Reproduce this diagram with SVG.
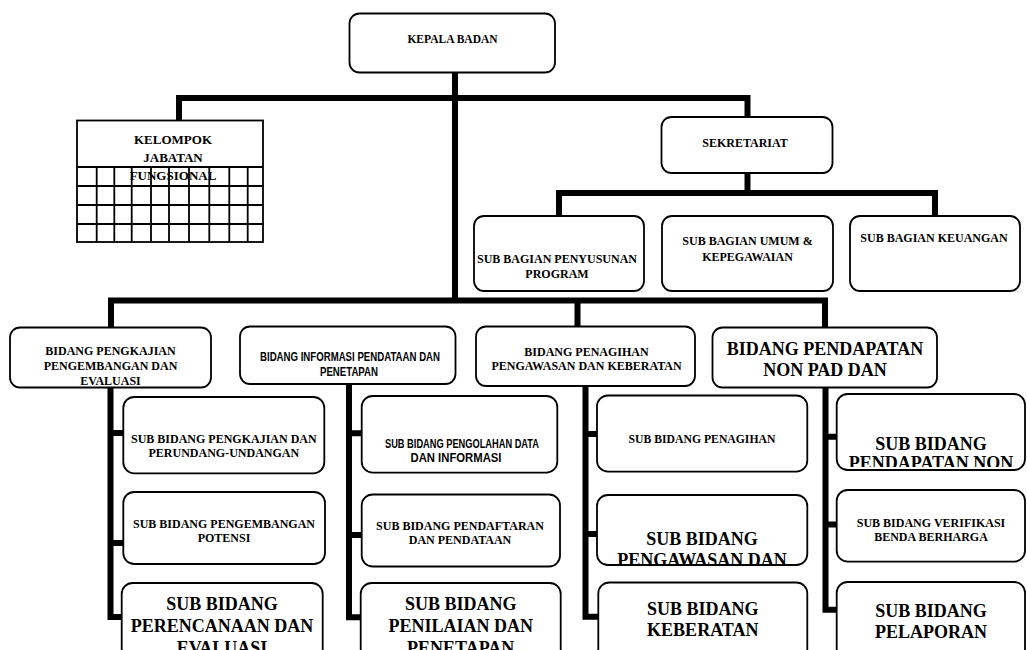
<svg xmlns="http://www.w3.org/2000/svg" width="1027" height="650" viewBox="0 0 1027 650">
<style>
.b{fill:#fff;stroke:#000;stroke-width:1.8}
.g{stroke:#000;stroke-width:1.8;fill:none}
.c{stroke:#000;stroke-width:6;fill:none;stroke-linecap:butt;stroke-linejoin:miter}
.t{font-family:"Liberation Serif","Times New Roman",serif;font-weight:bold;font-size:12px;text-anchor:middle;fill:#000}
.s{font-family:"Liberation Sans",Arial,sans-serif;font-weight:bold;font-size:12px;text-anchor:middle;fill:#000}
.L{font-size:18px}
</style>
<defs>
<clipPath id="clipPeng"><rect x="598" y="495" width="209" height="69"/></clipPath>
<clipPath id="clipNon"><rect x="837" y="394" width="188" height="73"/></clipPath>
</defs>
<rect width="1027" height="650" fill="#fff"/>
<g id="connectors">
<path class="c" d="M455 68 V303"/>
<path class="c" d="M179 120 V98 H747.5 V117"/>
<path class="c" d="M747.5 173 V193"/>
<path class="c" d="M559 216 V193 H935 V216"/>
<path class="c" d="M111 327 V300.5 H825 V328"/>
<path class="c" d="M577.5 300.5 V326"/>
<path class="c" d="M110.5 387 V617 H123"/>
<path class="c" d="M110.5 433 H123 M110.5 543 H123"/>
<path class="c" d="M349 384 V617.3 H362"/>
<path class="c" d="M349 433.3 H362 M349 535 H362"/>
<path class="c" d="M585.5 386 V616.7 H598"/>
<path class="c" d="M585.5 434 H598 M585.5 534 H598"/>
<path class="c" d="M825.5 387 V609.7 H837"/>
<path class="c" d="M825.5 436.7 H837 M825.5 524.5 H837"/>
</g>
<g id="kepala">
<rect class="b" x="349.5" y="13.5" width="205.5" height="59" rx="10"/>
<text class="t" x="452.5" y="42.5" style="font-size:11.5px">KEPALA BADAN</text>
</g>
<g id="kelompok">
<rect class="b" x="77" y="120.5" width="186" height="121.5"/>
<path class="g" d="M77 167 H263 M77 186 H263 M77 205 H263 M77 224 H263 M96.7 167 V242 M114.3 167 V242 M131.7 167 V242 M151 167 V242 M169 167 V242 M189 167 V242 M209.3 167 V242 M229.3 167 V242 M247.7 167 V242"/>
<text class="t" x="173" y="144" style="font-size:13px">KELOMPOK</text>
<text class="t" x="173" y="162" style="font-size:13px">JABATAN</text>
<text class="t" x="173" y="180" style="font-size:13px">FUNGSIONAL</text>
</g>
<g id="sekretariat">
<rect class="b" x="661.5" y="117" width="171" height="56" rx="10"/>
<text class="t" x="745" y="147">SEKRETARIAT</text>
</g>
<g id="sub-penyusunan">
<rect class="b" x="474" y="216" width="170" height="75" rx="10"/>
<text class="t" x="557" y="263">SUB BAGIAN PENYUSUNAN</text>
<text class="t" x="557" y="278">PROGRAM</text>
</g>
<g id="sub-umum">
<rect class="b" x="662" y="216" width="171" height="75" rx="10"/>
<text class="t" x="747.5" y="245">SUB BAGIAN UMUM &amp;</text>
<text class="t" x="747.5" y="261">KEPEGAWAIAN</text>
</g>
<g id="sub-keuangan">
<rect class="b" x="850" y="216" width="170" height="75" rx="10"/>
<text class="t" x="934" y="242">SUB BAGIAN KEUANGAN</text>
</g>
<g id="bidang-pengkajian">
<rect class="b" x="10" y="327.5" width="201" height="60" rx="10"/>
<text class="t" x="110.5" y="355">BIDANG PENGKAJIAN</text>
<text class="t" x="110.5" y="370">PENGEMBANGAN DAN</text>
<text class="t" x="110.5" y="384.5">EVALUASI</text>
</g>
<g id="bidang-informasi">
<rect class="b" x="240" y="326.5" width="215.5" height="57.5" rx="10"/>
<text class="s" x="350" y="361" textLength="180" lengthAdjust="spacingAndGlyphs">BIDANG INFORMASI PENDATAAN DAN</text>
<text class="s" x="349" y="376" textLength="58" lengthAdjust="spacingAndGlyphs">PENETAPAN</text>
</g>
<g id="bidang-penagihan">
<rect class="b" x="476" y="326.5" width="219" height="59.5" rx="10"/>
<text class="t" x="586.5" y="355.5">BIDANG PENAGIHAN</text>
<text class="t" x="586.5" y="370">PENGAWASAN DAN KEBERATAN</text>
</g>
<g id="bidang-pendapatan">
<rect class="b" x="712.5" y="327.5" width="224.5" height="60" rx="10"/>
<text class="t L" x="825" y="355">BIDANG PENDAPATAN</text>
<text class="t L" x="825" y="376">NON PAD DAN</text>
</g>
<g id="sub-pengkajian">
<rect class="b" x="123.3" y="397" width="201" height="76.3" rx="11"/>
<text class="t" x="223.8" y="443">SUB BIDANG PENGKAJIAN DAN</text>
<text class="t" x="223.8" y="457">PERUNDANG-UNDANGAN</text>
</g>
<g id="sub-pengembangan">
<rect class="b" x="123.3" y="492" width="201.7" height="72" rx="11"/>
<text class="t" x="224" y="528">SUB BIDANG PENGEMBANGAN</text>
<text class="t" x="224" y="542">POTENSI</text>
</g>
<g id="sub-perencanaan">
<rect class="b" x="121.7" y="583" width="201" height="90" rx="11"/>
<text class="t L" x="222" y="610">SUB BIDANG</text>
<text class="t L" x="222" y="632">PERENCANAAN DAN</text>
<text class="t L" x="222" y="654">EVALUASI</text>
</g>
<g id="sub-pengolahan">
<rect class="b" x="361.7" y="396" width="195.6" height="76.7" rx="11"/>
<text class="s" x="462" y="448" textLength="154" lengthAdjust="spacingAndGlyphs">SUB BIDANG PENGOLAHAN DATA</text>
<text class="s" x="456" y="462" textLength="91" lengthAdjust="spacingAndGlyphs">DAN INFORMASI</text>
</g>
<g id="sub-pendaftaran">
<rect class="b" x="361.7" y="494.5" width="198.3" height="72" rx="11"/>
<text class="t" x="460" y="530">SUB BIDANG PENDAFTARAN</text>
<text class="t" x="460" y="544">DAN PENDATAAN</text>
</g>
<g id="sub-penilaian">
<rect class="b" x="360.7" y="583" width="200" height="90" rx="11"/>
<text class="t L" x="460.7" y="610">SUB BIDANG</text>
<text class="t L" x="460.7" y="632">PENILAIAN DAN</text>
<text class="t L" x="460.7" y="654">PENETAPAN</text>
</g>
<g id="sub-penagihan">
<rect class="b" x="597" y="395.5" width="210.3" height="76.2" rx="11"/>
<text class="t" x="702" y="443" style="font-size:11.7px">SUB BIDANG PENAGIHAN</text>
</g>
<g id="sub-pengawasan">
<rect class="b" x="597" y="495" width="210.3" height="70" rx="11"/>
<g clip-path="url(#clipPeng)">
<text class="t L" x="702" y="545">SUB BIDANG</text>
<text class="t L" x="702" y="566">PENGAWASAN DAN</text>
</g>
</g>
<g id="sub-keberatan">
<rect class="b" x="598.3" y="582.5" width="209" height="90" rx="11"/>
<text class="t L" x="702.8" y="615">SUB BIDANG</text>
<text class="t L" x="702.8" y="636">KEBERATAN</text>
</g>
<g id="sub-pendapatan-non">
<rect class="b" x="836.7" y="394" width="188.3" height="76" rx="11"/>
<g clip-path="url(#clipNon)">
<text class="t L" x="931" y="450">SUB BIDANG</text>
<text class="t L" x="931" y="469">PENDAPATAN NON</text>
</g>
</g>
<g id="sub-verifikasi">
<rect class="b" x="836.7" y="490" width="188.3" height="71.7" rx="11"/>
<text class="t" x="931" y="527">SUB BIDANG VERIFIKASI</text>
<text class="t" x="931" y="541">BENDA BERHARGA</text>
</g>
<g id="sub-pelaporan">
<rect class="b" x="836.7" y="582" width="188.3" height="90" rx="11"/>
<text class="t L" x="931" y="617">SUB BIDANG</text>
<text class="t L" x="931" y="638">PELAPORAN</text>
</g>
</svg>
